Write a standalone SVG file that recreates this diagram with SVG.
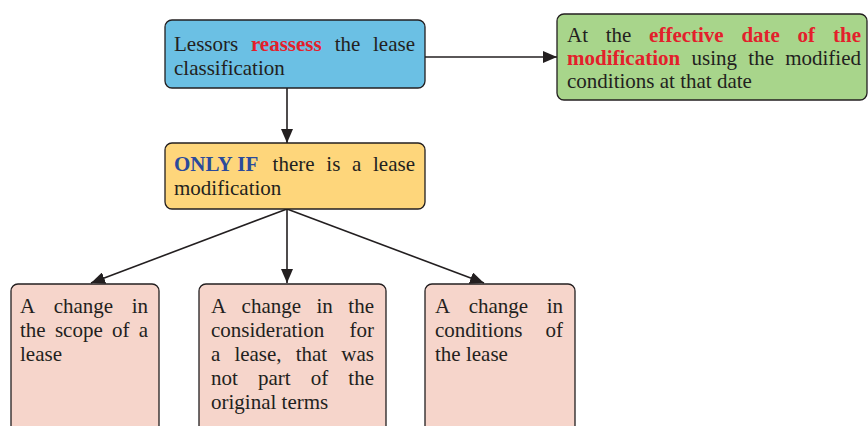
<svg xmlns="http://www.w3.org/2000/svg" width="868" height="426" viewBox="0 0 868 426">
<style>
.box{stroke:#231f20;stroke-width:1.3}
.t{font-family:"Liberation Serif","Times New Roman",serif;font-size:21px;fill:#231f20}
.r{fill:#e3202b;font-weight:bold}
.b{fill:#2b4a9b;font-weight:bold}
.e{text-anchor:end}
.c{stroke:#231f20;stroke-width:1.6;fill:none;marker-end:url(#ah)}
</style>
<defs>
<marker id="ah" markerUnits="userSpaceOnUse" markerWidth="14" markerHeight="12" viewBox="0 0 14 12" refX="14" refY="6" orient="auto">
<path d="M0,0 L14,6 L0,12 Z" fill="#231f20"/>
</marker>
</defs>
<rect width="868" height="426" fill="#ffffff"/>
<g id="connectors">
<line class="c" x1="287" y1="88" x2="287" y2="143"/>
<line class="c" x1="425" y1="57" x2="557" y2="57"/>
<line class="c" x1="287" y1="209" x2="91" y2="283"/>
<line class="c" x1="287" y1="209" x2="287" y2="283"/>
<line class="c" x1="287" y1="209" x2="484" y2="283"/>
</g>
<g id="reassess">
<rect class="box" x="165" y="20" width="260" height="68" rx="7" fill="#6bc0e4"/>
<text class="t" y="51"><tspan x="174">Lessors</tspan><tspan class="r" x="250.9">reassess</tspan><tspan x="334.7">the</tspan><tspan class="e" x="415">lease</tspan></text>
<text class="t" x="174" y="75">classification</text>
</g>
<g id="effective">
<rect class="box" x="557" y="14" width="310" height="86" rx="7" fill="#a8d58b"/>
<text class="t" y="42"><tspan x="567">At</tspan><tspan x="605.7">the</tspan><tspan class="r" x="649.1">effective</tspan><tspan class="r" x="741.4">date</tspan><tspan class="r" x="797.6">of</tspan><tspan class="r e" x="861">the</tspan></text>
<text class="t" y="65"><tspan class="r" x="567">modification</tspan><tspan x="691.5">using</tspan><tspan x="748.3">the</tspan><tspan class="e" x="861">modified</tspan></text>
<text class="t" x="567" y="88">conditions at that date</text>
</g>
<g id="onlyif">
<rect class="box" x="165" y="143" width="260" height="66" rx="7" fill="#fed67b"/>
<text class="t" y="171"><tspan class="b" x="174">ONLY IF</tspan><tspan x="272.6">there</tspan><tspan x="326.3">is</tspan><tspan x="352">a</tspan><tspan class="e" x="415">lease</tspan></text>
<text class="t" x="174" y="195">modification</text>
</g>
<g id="scope">
<rect class="box" x="11" y="284" width="148" height="160" rx="7" fill="#f6d5cb"/>
<text class="t" y="313"><tspan x="20">A</tspan><tspan x="53.7">change</tspan><tspan class="e" x="148">in</tspan></text>
<text class="t" y="337"><tspan x="20">the</tspan><tspan x="54.9">scope</tspan><tspan x="111.9">of</tspan><tspan class="e" x="148">a</tspan></text>
<text class="t" x="20" y="361">lease</text>
</g>
<g id="consideration">
<rect class="box" x="199" y="284" width="187" height="160" rx="7" fill="#f6d5cb"/>
<text class="t" y="313"><tspan x="211">A</tspan><tspan x="241.6">change</tspan><tspan x="316.5">in</tspan><tspan class="e" x="374">the</tspan></text>
<text class="t" y="337"><tspan x="211">consideration</tspan><tspan class="e" x="374">for</tspan></text>
<text class="t" y="361"><tspan x="211">a</tspan><tspan x="234.4">lease,</tspan><tspan x="295.7">that</tspan><tspan class="e" x="374">was</tspan></text>
<text class="t" y="385"><tspan x="211">not</tspan><tspan x="257.9">part</tspan><tspan x="310.7">of</tspan><tspan class="e" x="374">the</tspan></text>
<text class="t" x="211" y="409">original terms</text>
</g>
<g id="conditions">
<rect class="box" x="425" y="284" width="150" height="160" rx="7" fill="#f6d5cb"/>
<text class="t" y="313"><tspan x="435">A</tspan><tspan x="468.7">change</tspan><tspan class="e" x="563">in</tspan></text>
<text class="t" y="337"><tspan x="435">conditions</tspan><tspan class="e" x="563">of</tspan></text>
<text class="t" x="435" y="361">the lease</text>
</g>
</svg>
